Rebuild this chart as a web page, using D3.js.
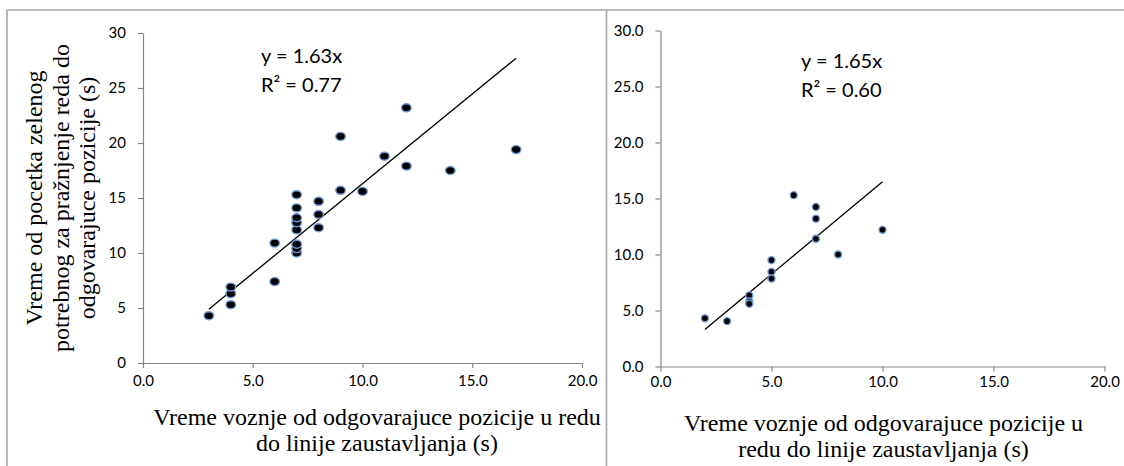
<!DOCTYPE html>
<html>
<head>
<meta charset="utf-8">
<script src="https://cdn.jsdelivr.net/npm/d3@7"></script>
<style>
  html, body { margin: 0; padding: 0; background: #fff; }
  svg { display: block; }
</style>
</head>
<body>
<svg id="chart" width="1124" height="466"></svg>
<script>
// ---------- data ----------
const xTickValues = [0, 5, 10, 15, 20];
const yTickValues = [0, 5, 10, 15, 20, 25, 30];

const leftX = [3, 4, 4, 4, 6, 6, 7, 7, 7, 7, 7, 7, 7, 7, 8, 8, 8, 9, 9, 10, 11, 12, 12, 14, 17];
const leftY = [4.3, 5.3, 6.3, 6.9, 7.4, 10.9, 10.0, 10.4, 10.8, 12.1, 12.75, 13.2, 14.1, 15.3, 14.7, 13.5, 12.3, 20.6, 15.7, 15.6, 18.8, 23.2, 17.9, 17.5, 19.4];
const leftSlope = 1.63;
const leftEquation = ["y = 1.63x", "R² = 0.77"];
const leftXTitle = ["Vreme voznje od odgovarajuce pozicije u redu", "do linije zaustavljanja (s)"];
const leftYTitle = ["Vreme od pocetka zelenog", "potrebnog za pražnjenje reda do", "odgovarajuce pozicije (s)"];

const rightX = [2, 3, 4, 4, 4, 5, 5, 5, 6, 7, 7, 7, 8, 10];
const rightY = [4.3, 4.05, 6.35, 5.8, 5.6, 9.5, 8.45, 7.85, 15.3, 14.25, 13.2, 11.4, 10.0, 12.2];
const rightSlope = 1.65;
const rightEquation = ["y = 1.65x", "R² = 0.60"];
const rightXTitle = ["Vreme voznje od odgovarajuce pozicije u", "redu do linije zaustavljanja (s)"];

// ---------- drawing ----------
const svg = d3.select("#chart");
svg.append("rect").attr("width", 1124).attr("height", 466).attr("fill", "#fff");

const frameColor = "#a5a5a5";
const axisColor = "#868686";
const tickFont = "Lato, 'Liberation Sans', sans-serif";
const titleFont = "'Liberation Serif', 'DejaVu Serif', serif";

// frame lines
svg.append("line").attr("x1", 7).attr("x2", 1124).attr("y1", 10).attr("y2", 10)
  .attr("stroke", frameColor).attr("stroke-width", 1.6);
svg.append("line").attr("x1", 7).attr("x2", 7).attr("y1", 10).attr("y2", 466)
  .attr("stroke", frameColor).attr("stroke-width", 1.6);
svg.append("line").attr("x1", 606.5).attr("x2", 606.5).attr("y1", 10).attr("y2", 466)
  .attr("stroke", frameColor).attr("stroke-width", 1.6);

function panel(cfg) {
  const x = d3.scaleLinear().domain([0, 20]).range(cfg.xr);
  const y = d3.scaleLinear().domain([0, 30]).range(cfg.yr);
  const g = svg.append("g");

  const xAxis = d3.axisBottom(x).tickValues(xTickValues).tickFormat(d3.format(".1f"))
    .tickSize(5).tickSizeOuter(0).tickPadding(cfg.xPad);
  const gx = g.append("g").attr("transform", `translate(0,${cfg.yr[0]})`).call(xAxis);

  const yAxis = d3.axisLeft(y).tickValues(yTickValues).tickFormat(d3.format(cfg.yFmt))
    .tickSize(5).tickSizeOuter(0).tickPadding(12);
  const gy = g.append("g").attr("transform", `translate(${cfg.xr[0]},0)`).call(yAxis);

  [gx, gy].forEach(a => {
    a.select(".domain").attr("stroke", axisColor).attr("stroke-width", 1.2);
    a.selectAll(".tick line").attr("stroke", axisColor).attr("stroke-width", 1.2);
    a.selectAll(".tick text").attr("fill", "#000").style("font-family", tickFont).style("font-size", "15px");
  });

  // trend line
  const ext = d3.extent(cfg.xs);
  const line = d3.line().x(d => x(d)).y(d => y(cfg.slope * d));
  g.append("path").datum(ext).attr("d", line).attr("fill", "none")
    .attr("stroke", "#000").attr("stroke-width", 1.3);

  // points
  const pts = cfg.xs.map((v, i) => [v, cfg.ys[i]]);
  g.selectAll("ellipse.pt").data(pts).join("ellipse").attr("class", "pt")
    .attr("cx", d => x(d[0])).attr("cy", d => y(d[1]))
    .attr("rx", cfg.rx).attr("ry", cfg.ry)
    .attr("fill", "#000").attr("stroke", "#6d9ad6").attr("stroke-width", 1.4);

  // equation
  const eq = g.append("text").attr("x", cfg.eqX).attr("y", cfg.eqY)
    .style("font-family", tickFont).style("font-size", "20px").attr("fill", "#000");
  cfg.eq.forEach((t, i) => eq.append("tspan").attr("x", cfg.eqX).attr("y", cfg.eqY + i * 28.5).text(t));

  // x title
  const xt = g.append("text").attr("text-anchor", "middle")
    .style("font-family", titleFont).style("font-size", "24px").attr("fill", "#000");
  cfg.xTitle.forEach((t, i) => xt.append("tspan").attr("x", cfg.xTitleX).attr("y", cfg.xTitleY + i * 26).text(t));

  return { x, y };
}

panel({
  xr: [143, 582], yr: [363, 33], yFmt: "d", xPad: 7,
  xs: leftX, ys: leftY, slope: leftSlope, rx: 4.8, ry: 4.0,
  eq: leftEquation, eqX: 261, eqY: 63,
  xTitle: leftXTitle, xTitleX: 377, xTitleY: 425
});

panel({
  xr: [660.5, 1104.5], yr: [366.5, 30.5], yFmt: ".1f", xPad: 5,
  xs: rightX, ys: rightY, slope: rightSlope, rx: 3.5, ry: 3.5,
  eq: rightEquation, eqX: 801, eqY: 68,
  xTitle: rightXTitle, xTitleX: 883.5, xTitleY: 431
});

// left y title (rotated)
const yt = svg.append("text").attr("transform", "translate(0,198) rotate(-90)")
  .attr("text-anchor", "middle").attr("dominant-baseline", "central")
  .style("font-family", titleFont).style("font-size", "24px").attr("fill", "#000");
leftYTitle.forEach((t, i) => yt.append("tspan").attr("x", 0).attr("y", 34 + i * 26.5).text(t));
</script>
</body>
</html>
